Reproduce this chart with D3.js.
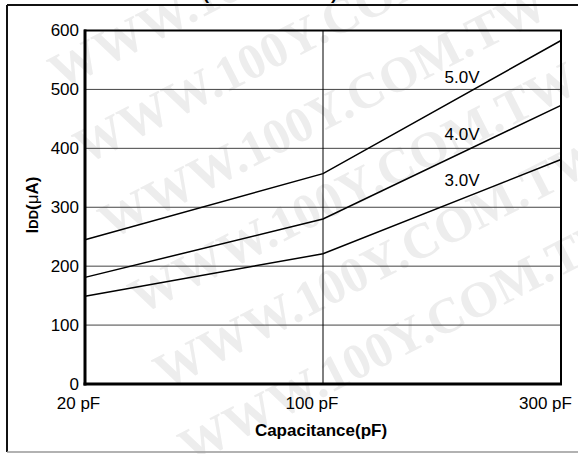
<!DOCTYPE html>
<html>
<head>
<meta charset="utf-8">
<script src="https://cdn.jsdelivr.net/npm/d3@7"></script>
<style>
  html, body { margin: 0; padding: 0; background: #fff; }
  svg { display: block; }
  text { font-family: "Liberation Sans", Arial, sans-serif; }
</style>
</head>
<body>
<div id="chart"></div>
<script>
// ---- data ----
const categories = ["20 pF", "100 pF", "300 pF"];
const v50 = [245, 357, 583];
const v40 = [181, 280, 473];
const v30 = [149, 221, 381];
const seriesNames = ["5.0V", "4.0V", "3.0V"];
const yTicks = [0, 100, 200, 300, 400, 500, 600];
const gridValues = [100, 200, 300, 400, 500];
const xLabel = "Capacitance(pF)";
const titleText = "(Fosc = 32 kHz)";
const watermark = "WWW.100Y.COM.TW";

const W = 578, H = 454;
const svg = d3.select("#chart").append("svg").attr("width", W).attr("height", H);

// watermark (very faint)
const wmAnchors = [[60, 90], [85, 165], [110, 240], [140, 315], [165, 390], [190, 465]];
const wm = svg.append("g");
wmAnchors.forEach(([ax, ay]) => {
  wm.append("text")
    .attr("transform", `translate(${ax},${ay}) rotate(-27)`)
    .style("font-family", "'Liberation Serif', 'DejaVu Serif', serif")
    .style("font-weight", "bold")
    .style("font-size", "50px")
    .attr("fill", "#ededed")
    .text(watermark);
});

// outer frame
svg.append("line").attr("x1", 7).attr("x2", W).attr("y1", 5).attr("y2", 5).attr("stroke", "#111").attr("stroke-width", 2);
svg.append("line").attr("x1", 7).attr("x2", 7).attr("y1", 5).attr("y2", 452).attr("stroke", "#111").attr("stroke-width", 2);
svg.append("line").attr("x1", 7).attr("x2", W).attr("y1", 452).attr("y2", 452).attr("stroke", "#999").attr("stroke-width", 1.5);

// clipped title
svg.append("text").attr("x", 203).attr("y", 0)
  .attr("textLength", 134).attr("lengthAdjust", "spacingAndGlyphs")
  .style("font-weight", "bold").style("font-size", "17px").text(titleText);

const L = 85, R = 561, T = 30.5, B = 384;
const x = d3.scalePoint().domain(categories).range([L, R]);
const y = d3.scaleLinear().domain([0, 600]).range([B, T]);

// grid
svg.append("g").selectAll("line").data(gridValues).join("line")
  .attr("x1", L).attr("x2", R).attr("y1", d => y(d)).attr("y2", d => y(d))
  .attr("stroke", "#444").attr("stroke-width", 1);
svg.append("line").attr("x1", x(categories[1])).attr("x2", x(categories[1]))
  .attr("y1", T).attr("y2", B).attr("stroke", "#000").attr("stroke-width", 1);

// plot frame
svg.append("rect").attr("x", L).attr("y", T).attr("width", R - L).attr("height", B - T)
  .attr("fill", "none").attr("stroke", "#000").attr("stroke-width", 2);
svg.append("line").attr("x1", L).attr("x2", L).attr("y1", T - 1).attr("y2", B + 1.5).attr("stroke", "#000").attr("stroke-width", 3);
svg.append("line").attr("x1", L - 1.5).attr("x2", R + 1).attr("y1", B).attr("y2", B).attr("stroke", "#000").attr("stroke-width", 3);

// axes
const yAxis = svg.append("g").attr("transform", `translate(${L},0)`)
  .call(d3.axisLeft(y).tickValues(yTicks).tickSize(0).tickPadding(6));
yAxis.select(".domain").remove();
yAxis.selectAll("text").style("font-size", "17px").style("font-family", "'Liberation Sans', Arial, sans-serif").attr("fill", "#000");

const xAxis = svg.append("g").attr("transform", `translate(0,${B})`)
  .call(d3.axisBottom(x).tickSize(0).tickPadding(13));
xAxis.select(".domain").remove();
xAxis.selectAll("text").style("font-size", "17px").style("font-family", "'Liberation Sans', Arial, sans-serif").attr("fill", "#000")
  .attr("dx", (d, i) => -7 - 4.5 * i);

// axis titles
svg.append("text").attr("x", 321).attr("y", 436).attr("text-anchor", "middle")
  .style("font-weight", "bold").style("font-size", "17px").text(xLabel);

const yl = svg.append("text").attr("transform", "translate(38,205) rotate(-90)")
  .attr("text-anchor", "middle").style("font-weight", "bold").style("font-size", "17px");
yl.append("tspan").text("I");
yl.append("tspan").style("font-size", "13px").text("DD");
yl.append("tspan").text("(");
yl.append("tspan").style("font-weight", "normal").text("μ");
yl.append("tspan").text("A)");

// lines
const series = [v50, v40, v30];
const line = d3.line().x((d, i) => x(categories[i])).y(d => y(d));
svg.append("g").selectAll("path").data(series).join("path")
  .attr("d", d => line(d)).attr("fill", "none").attr("stroke", "#000").attr("stroke-width", 1.5);

// series labels
const lx = 462;
const t = (lx - x(categories[1])) / (x(categories[2]) - x(categories[1]));
svg.append("g").selectAll("text").data(series).join("text")
  .attr("x", lx).attr("text-anchor", "middle")
  .attr("y", d => y(d[1] + t * (d[2] - d[1])) - 13)
  .style("font-size", "17px")
  .text((d, i) => seriesNames[i]);
</script>
</body>
</html>
